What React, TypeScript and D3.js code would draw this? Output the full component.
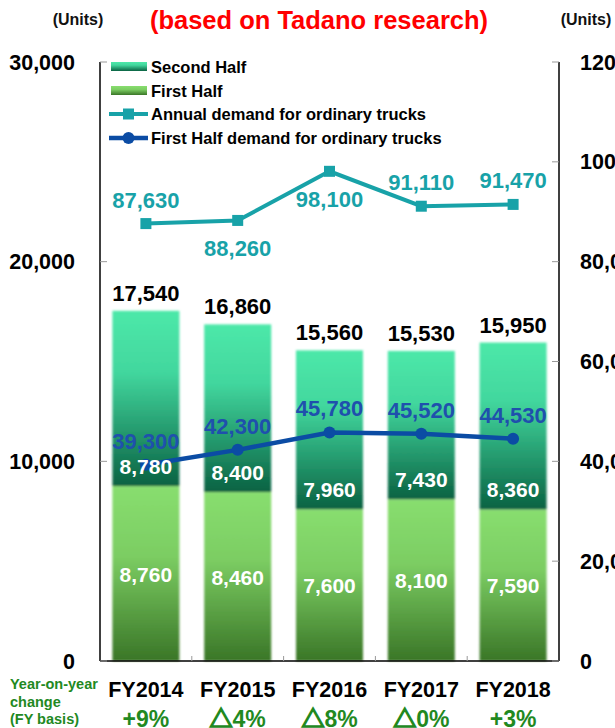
import React from "react";
import * as d3 from "d3";

const categories = ["FY2014", "FY2015", "FY2016", "FY2017", "FY2018"];
const firstHalf = [8760, 8460, 7600, 8100, 7590];
const secondHalf = [8780, 8400, 7960, 7430, 8360];
const totals = [17540, 16860, 15560, 15530, 15950];
const annualDemand = [87630, 88260, 98100, 91110, 91470];
const firstHalfDemand = [39300, 42300, 45780, 45520, 44530];
const yoyChange = ["+9%", "△4%", "△8%", "△0%", "+3%"];
const leftTicks = [0, 10000, 20000, 30000];
const rightTicks = [0, 20000, 40000, 60000, 80000, 100000, 120000];
// label placement for annual line: above (-1) or below (+1)
const annualLabelSide = [-1, 1, 1, -1, -1];

const W = 615;
const H = 728;
const left = 100;
const right = 559;
const top = 62;
const bottom = 661;

const FONT = "'Liberation Sans', Arial, sans-serif";
const CJK = "'Noto Sans CJK JP', 'Noto Sans CJK SC', sans-serif";

export default function App() {
  const x = d3.scaleBand<string>().domain(categories).range([left, right]).paddingInner(0.27).paddingOuter(0.135);
  const yL = d3.scaleLinear().domain([0, 30000]).range([bottom, top]);
  const yR = d3.scaleLinear().domain([0, 120000]).range([bottom, top]);
  const cx = (i: number) => (x(categories[i]) as number) + x.bandwidth() / 2;
  const fmt = d3.format(",");

  const annualLine = d3.line<number>().x((_, i) => cx(i)).y((d) => yR(d))(annualDemand) as string;
  const fhLine = d3.line<number>().x((_, i) => cx(i)).y((d) => yR(d))(firstHalfDemand) as string;

  const step = (right - left) / categories.length;
  const teal = "#18a2a8";
  const blue = "#0b4ca4";
  const green = "#22891f";

  const renderYoY = (s: string) => {
    if (s.startsWith("△")) {
      return (
        <>
          <tspan fontFamily={CJK} fontWeight="bold" stroke={green} strokeWidth={1.6}>△</tspan>
          <tspan>{s.slice(1)}</tspan>
        </>
      );
    }
    return s;
  };

  return (
    <div style={{ position: "absolute", left: 0, top: 0 }}>
      <svg width={W} height={H} style={{ display: "block", fontFamily: FONT }}>
        <defs>
          <linearGradient id="gSecond" x1="0" y1="0" x2="0" y2="1">
            <stop offset="0%" stopColor="#4de8a9" />
            <stop offset="35%" stopColor="#42d79e" />
            <stop offset="100%" stopColor="#0a6242" />
          </linearGradient>
          <linearGradient id="gFirst" x1="0" y1="0" x2="0" y2="1">
            <stop offset="0%" stopColor="#88de6f" />
            <stop offset="40%" stopColor="#7ccd63" />
            <stop offset="100%" stopColor="#3a7627" />
          </linearGradient>
          <filter id="soft" x="-10%" y="-10%" width="120%" height="120%">
            <feGaussianBlur stdDeviation="0.9" />
          </filter>
        </defs>

        {/* title */}
        <text x={319} y={29} textAnchor="middle" fill="#ff0000" fontWeight="bold" fontSize={25.5}>
          (based on Tadano research)
        </text>
        <text x={78} y={25} textAnchor="middle" fontWeight="bold" fontSize={16} fill="#111">(Units)</text>
        <text x={586} y={25} textAnchor="middle" fontWeight="bold" fontSize={16} fill="#111">(Units)</text>

        {/* bars */}
        {categories.map((c, i) => {
          const bx = x(c) as number;
          const bw = x.bandwidth();
          const yF = yL(firstHalf[i]);
          const yT = yL(firstHalf[i] + secondHalf[i]);
          return (
            <g key={c} filter="url(#soft)">
              <rect x={bx} y={yF} width={bw} height={bottom - yF} fill="url(#gFirst)" />
              <rect x={bx} y={yT} width={bw} height={yF - yT} fill="url(#gSecond)" />
            </g>
          );
        })}

        {/* axes */}
        <line x1={left} x2={left} y1={top} y2={bottom} stroke="#000" strokeWidth={1.5} />
        <line x1={right} x2={right} y1={top} y2={bottom} stroke="#000" strokeWidth={1.5} />
        <line x1={left} x2={right} y1={bottom} y2={bottom} stroke="#000" strokeWidth={1.5} />
        {leftTicks.map((t) => (
          <g key={"l" + t}>
            <line x1={left} x2={left + 7} y1={yL(t)} y2={yL(t)} stroke="#999" strokeWidth={1} />
            <text x={75} y={yL(t) + 7.5} textAnchor="end" fontWeight="bold" fontSize={21.5} fill="#000">
              {fmt(t)}
            </text>
          </g>
        ))}
        {rightTicks.map((t) => (
          <g key={"r" + t}>
            <line x1={right - 7} x2={right} y1={yR(t)} y2={yR(t)} stroke="#999" strokeWidth={1} />
            <text x={580} y={yR(t) + 7.5} textAnchor="start" fontWeight="bold" fontSize={21.5} fill="#000">
              {fmt(t)}
            </text>
          </g>
        ))}
        {categories.slice(1).map((_, i) => (
          <line key={"b" + i} x1={left + step * (i + 1)} x2={left + step * (i + 1)} y1={bottom - 5} y2={bottom} stroke="#999" />
        ))}

        {/* lines */}
        <path d={annualLine} fill="none" stroke={teal} strokeWidth={4} />
        {annualDemand.map((d, i) => (
          <rect key={"am" + i} x={cx(i) - 5.5} y={yR(d) - 5.5} width={11} height={11} fill={teal} />
        ))}
        <path d={fhLine} fill="none" stroke={blue} strokeWidth={4.5} />
        {firstHalfDemand.map((d, i) => (
          <circle key={"fm" + i} cx={cx(i)} cy={yR(d)} r={6} fill={blue} />
        ))}

        {/* labels */}
        {categories.map((c, i) => {
          const yF = yL(firstHalf[i]);
          const yT = yL(totals[i]);
          return (
            <g key={"lab" + c} fontWeight="bold" textAnchor="middle" fontSize={21}>
              <text x={cx(i)} y={yT - 10} fill="#000" fontSize={22}>{fmt(totals[i])}</text>
              <text x={cx(i)} y={yF - 12} fill="#fff">{fmt(secondHalf[i])}</text>
              <text x={cx(i)} y={(yF + bottom) / 2 + 8} fill="#fff">{fmt(firstHalf[i])}</text>
              <text x={cx(i)} y={yR(firstHalfDemand[i]) - 16} fill="#1f50ad" fontSize={22}>{fmt(firstHalfDemand[i])}</text>
              <text
                x={cx(i)}
                y={annualLabelSide[i] < 0 ? yR(annualDemand[i]) - 16 : yR(annualDemand[i]) + 36}
                fill={teal}
                fontSize={22}
              >
                {fmt(annualDemand[i])}
              </text>
              <text x={cx(i)} y={697} fill="#000" fontSize={21.5}>{c}</text>
              <text x={cx(i)} y={727} fill={green} fontSize={23}>{renderYoY(yoyChange[i])}</text>
            </g>
          );
        })}

        {/* YoY heading */}
        <g fontWeight="bold" fontSize={14.5} fill={green}>
          <text x={10} y={689}>Year-on-year</text>
          <text x={10} y={707}>change</text>
          <text x={10} y={724}>(FY basis)</text>
        </g>

        {/* legend */}
        <g fontWeight="bold" fontSize={16.5} fill="#000">
          <rect x={111} y={62} width={36} height={9} fill="url(#gSecond)" />
          <text x={151} y={73}>Second Half</text>
          <rect x={111} y={86} width={36} height={9} fill="url(#gFirst)" />
          <text x={151} y={97}>First Half</text>
          <line x1={109} x2={148} y1={114} y2={114} stroke={teal} strokeWidth={4} />
          <rect x={123} y={108.5} width={11} height={11} fill={teal} />
          <text x={151} y={120}>Annual demand for ordinary trucks</text>
          <line x1={109} x2={148} y1={138} y2={138} stroke={blue} strokeWidth={4.5} />
          <circle cx={128.5} cy={138} r={6} fill={blue} />
          <text x={151} y={144}>First Half demand for ordinary trucks</text>
        </g>
      </svg>
    </div>
  );
}
